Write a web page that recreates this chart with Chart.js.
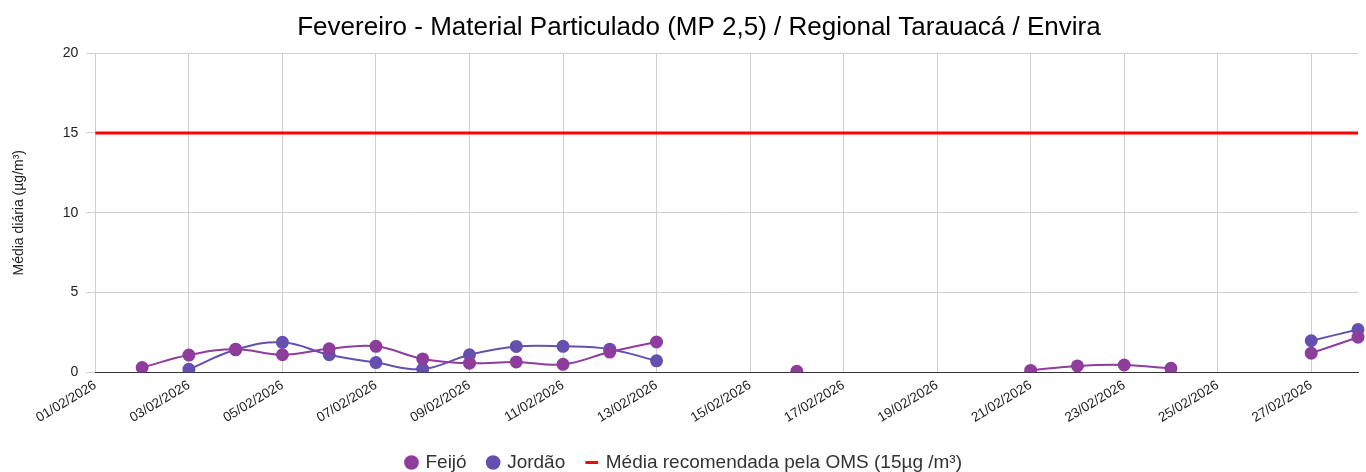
<!DOCTYPE html>
<html><head><meta charset="utf-8">
<script src="https://cdn.jsdelivr.net/npm/chart.js@4"></script>
<style>html,body{margin:0;padding:0;background:#fff;}#wrap{width:1366px;height:472px;}</style>
</head><body><div id="wrap"><canvas id="c" width="1366" height="472"></canvas></div>
<script>
const categories = ["01/02/2026","02/02/2026","03/02/2026","04/02/2026","05/02/2026","06/02/2026","07/02/2026","08/02/2026","09/02/2026","10/02/2026","11/02/2026","12/02/2026","13/02/2026","14/02/2026","15/02/2026","16/02/2026","17/02/2026","18/02/2026","19/02/2026","20/02/2026","21/02/2026","22/02/2026","23/02/2026","24/02/2026","25/02/2026","26/02/2026","27/02/2026","28/02/2026"];
const feijo = [null,0.3,1.08,1.45,1.1,1.47,1.63,0.84,0.57,0.65,0.5,1.27,1.9,null,null,0.06,null,null,null,null,0.12,0.4,0.46,0.25,null,null,1.2,2.2];
const jordao = [null,null,0.19,1.41,1.88,1.1,0.61,0.2,1.1,1.62,1.63,1.45,0.72,null,null,null,null,null,null,null,null,null,null,null,null,null,1.98,2.68];
const omsValue = 15;
const oms = categories.map(() => omsValue);
const yTicks = [0,5,10,15,20];

const FONT = "'Liberation Sans', Arial, sans-serif";
new Chart(document.getElementById('c'), {
  type: 'line',
  data: {
    labels: categories,
    datasets: [
      {label: 'Feijó', data: feijo, borderColor: '#8e3d9c', backgroundColor: '#8e3d9c', pointRadius: 5.5, pointHoverRadius: 5.5, borderWidth: 2, tension: 0.4, spanGaps: false, pointStyle: 'circle'},
      {label: 'Jordão', data: jordao, borderColor: '#6550b0', backgroundColor: '#6550b0', pointRadius: 5.5, pointHoverRadius: 5.5, borderWidth: 2, tension: 0.4, spanGaps: false, pointStyle: 'circle'},
      {label: 'Média recomendada pela OMS (15µg /m³)', data: oms, borderColor: '#ff0000', backgroundColor: '#ff0000', pointRadius: 0, borderWidth: 3, tension: 0, pointStyle: 'line'}
    ]
  },
  options: {
    responsive: false,
    animation: false,
    layout: {padding: {left: 11, right: 8, top: 0, bottom: -10}},
    plugins: {
      title: {display: true, text: '    Fevereiro - Material Particulado (MP 2,5) / Regional Tarauacá / Envira', color: '#000', font: {family: FONT, size: 26, weight: 'normal'}, padding: {top: 12, bottom: 10}},
      legend: {position: 'bottom', labels: {usePointStyle: true, color: '#333', font: {family: FONT, size: 19}, boxWidth: 9, boxHeight: 9, padding: 22}},
      tooltip: {enabled: false}
    },
    scales: {
      x: {
        type: 'category',
        offset: false,
        afterBuildTicks: axis => { axis.ticks = axis.ticks.filter((t, i) => i % 2 === 0); },
        ticks: {autoSkip: false, maxRotation: 31, minRotation: 31, color: '#222', font: {family: FONT, size: 13.5}, padding: 5},
        grid: {color: '#d0d0d0', drawTicks: false},
        border: {color: '#333', width: 1}
      },
      y: {
        min: 0, max: 20,
        afterBuildTicks: axis => { axis.ticks = yTicks.map(v => ({value: v})); },
        ticks: {color: '#222', font: {family: FONT, size: 14}, padding: 8},
        grid: {color: '#d0d0d0', drawTicks: true, tickLength: 9},
        border: {display: false},
        title: {display: true, text: 'Média diária (µg/m³)', color: '#222', font: {family: FONT, size: 14}, padding: {top: 0, bottom: 27}}
      }
    }
  }
});
</script></body></html>
